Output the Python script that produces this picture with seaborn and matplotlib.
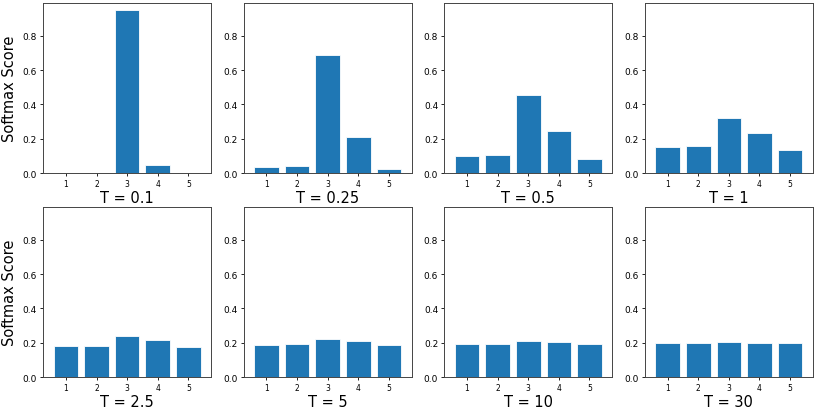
import numpy as np
import pandas as pd
import matplotlib
matplotlib.use("Agg")
import matplotlib.pyplot as plt
import seaborn as sns

# 类别和温度
categories = ["1", "2", "3", "4", "5"]
temperatures = ["0.1", "0.25", "0.5", "1", "2.5", "5", "10", "30"]

# 各温度下的 softmax 分数
scores_t01 = [0.0005, 0.0005, 0.951, 0.047, 0.0005]
scores_t025 = [0.033, 0.039, 0.690, 0.210, 0.024]
scores_t05 = [0.100, 0.108, 0.453, 0.247, 0.084]
scores_t1 = [0.149, 0.157, 0.318, 0.234, 0.137]
scores_t25 = [0.178, 0.180, 0.241, 0.216, 0.172]
scores_t5 = [0.188, 0.190, 0.220, 0.208, 0.184]
scores_t10 = [0.194, 0.195, 0.210, 0.203, 0.192]
scores_t30 = [0.198, 0.198, 0.203, 0.201, 0.197]

all_scores = [scores_t01, scores_t025, scores_t05, scores_t1,
              scores_t25, scores_t5, scores_t10, scores_t30]

fig, axes = plt.subplots(2, 4, figsize=(8.16, 4.1), dpi=100)
plt.subplots_adjust(left=0.053, right=0.996, top=0.99, bottom=0.078,
                    wspace=0.196, hspace=0.2)

for i, ax in enumerate(axes.flat):
    df = pd.DataFrame({"cat": categories, "score": all_scores[i]})
    sns.barplot(data=df, x="cat", y="score", color="#1f77b4", saturation=1,
                width=0.8, edgecolor="white", linewidth=0.6, ax=ax)
    ax.set_xlim(-0.74, 4.74)
    ax.set_ylim(0, 0.99)
    ax.set_yticks([0.0, 0.2, 0.4, 0.6, 0.8])
    ax.tick_params(axis="y", labelsize=6.5, length=2.5, width=0.6, pad=2)
    ax.tick_params(axis="x", labelsize=5.5, length=2.5, width=0.6, pad=2)
    for s in ax.spines.values():
        s.set_linewidth(0.7)
        s.set_color("#444444")
    ax.set_xlabel(f"T = {temperatures[i]}", fontsize=10.5, labelpad=1)
    if i % 4 == 0:
        ax.set_ylabel("Softmax Score", fontsize=10.5, labelpad=4)
    else:
        ax.set_ylabel("")

plt.savefig("out.png", dpi=100)
